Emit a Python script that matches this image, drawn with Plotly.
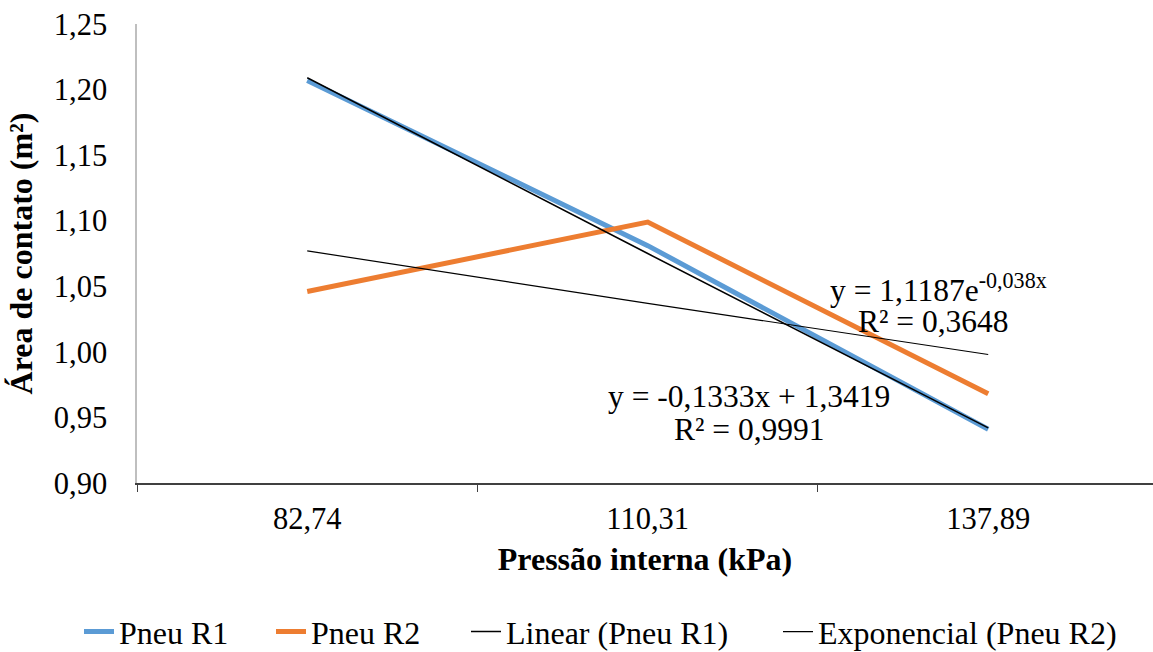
import plotly.graph_objects as go

categories = ["82,74", "110,31", "137,89"]
pneu_r1 = [1.207, 1.081, 0.941]
pneu_r2 = [1.046, 1.099, 0.968]
linear_r1 = [1.209, 1.075, 0.942]
expo_r2 = [1.077, 1.037, 0.998]
y_ticks = [0.90, 0.95, 1.00, 1.05, 1.10, 1.15, 1.20, 1.25]
y_labels = ["0,90", "0,95", "1,00", "1,05", "1,10", "1,15", "1,20", "1,25"]

FONT = "Liberation Serif"

fig = go.Figure()
fig.add_trace(go.Scatter(x=categories, y=pneu_r1, mode="lines", name="Pneu R1",
                         line=dict(color="#5B9BD5", width=5), legend="legend"))
fig.add_trace(go.Scatter(x=categories, y=pneu_r2, mode="lines", name="Pneu R2",
                         line=dict(color="#ED7D31", width=5), legend="legend2"))
fig.add_trace(go.Scatter(x=categories, y=linear_r1, mode="lines", name="Linear (Pneu R1)",
                         line=dict(color="#000000", width=1.5), legend="legend3"))
fig.add_trace(go.Scatter(x=categories, y=expo_r2, mode="lines", name="Exponencial (Pneu R2)",
                         line=dict(color="#000000", width=1.2), legend="legend4"))

ann_font = dict(family=FONT, size=31.5, color="#000")
fig.add_annotation(x=0.680, y=0.4248, xref="paper", yref="paper", showarrow=False,
                   text="y = 1,1187e<sup>-0,038x</sup>", font=ann_font,
                   xanchor="left", yanchor="middle")
fig.add_annotation(x=0.7844, y=0.3529, xref="paper", yref="paper", showarrow=False,
                   text="R² = 0,3648", font=ann_font, xanchor="center", yanchor="middle")
fig.add_annotation(x=0.6028, y=0.1895, xref="paper", yref="paper", showarrow=False,
                   text="y = -0,1333x + 1,3419", font=ann_font, xanchor="center", yanchor="middle")
fig.add_annotation(x=0.6024, y=0.1155, xref="paper", yref="paper", showarrow=False,
                   text="R² = 0,9991", font=ann_font, xanchor="center", yanchor="middle")

leg_font = dict(family=FONT, size=32, color="#000")
def leg(xpx):
    return dict(orientation="h", xref="container", yref="container",
                x=xpx / 1153, xanchor="left", y=0.031, yanchor="middle",
                font=leg_font, bgcolor="rgba(0,0,0,0)", borderwidth=0)

fig.update_layout(
    width=1153, height=652,
    margin=dict(l=137, r=0, t=24, b=169, autoexpand=False),
    paper_bgcolor="white", plot_bgcolor="white",
    font=dict(family=FONT, size=30.5, color="#000"),
    showlegend=True,
    legend=leg(79), legend2=leg(271), legend3=leg(466), legend4=leg(778),
    xaxis=dict(type="category", range=[-0.5, 2.484], showgrid=False, zeroline=False,
               automargin=False,
               showline=True, linecolor="#404040", linewidth=1.5,
               ticks="outside", tickson="boundaries", ticklen=7, tickcolor="#404040",
               ticklabelstandoff=8, tickfont=dict(family=FONT, size=30.5),
               title=dict(text="<b>Pressão interna (kPa)</b>", font=dict(family=FONT, size=32), standoff=12)),
    yaxis=dict(range=[0.90, 1.25], tickvals=y_ticks, ticktext=y_labels, showgrid=False,
               automargin=False,
               zeroline=False, showline=True, linecolor="#BFBFBF", linewidth=1.5,
               ticks="", ticklabelstandoff=22, tickfont=dict(family=FONT, size=30.5),
               title=dict(text="<b>Área de contato (m²)</b>", font=dict(family=FONT, size=32), standoff=12)),
)

fig.write_html("out.html", config={"displayModeBar": False},
               post_script="document.body.style.margin='0';document.body.style.overflow='hidden';")
